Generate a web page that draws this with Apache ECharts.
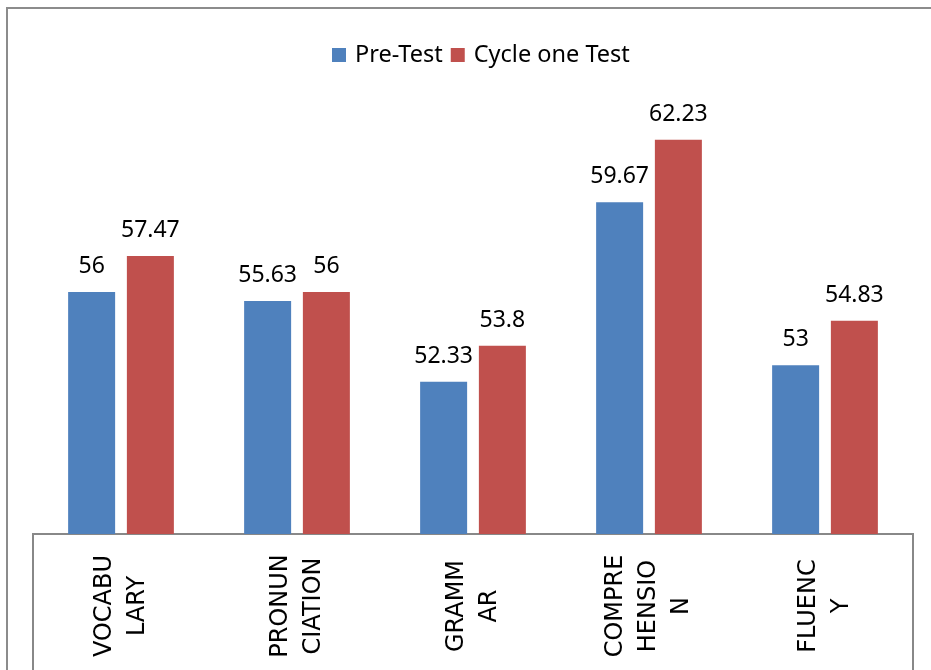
<!DOCTYPE html>
<html>
<head>
<meta charset="utf-8">
<script src="https://cdn.jsdelivr.net/npm/echarts@6/dist/echarts.min.js"></script>
<style>
  html, body { margin: 0; padding: 0; background: #fff; }
  #chart { width: 931px; height: 670px; }
</style>
</head>
<body>
<div id="chart"></div>
<script>
// skill categories (two-line labels as in the original)
var categories = ['VOCABU\nLARY', 'PRONUN\nCIATION', 'GRAMM\nAR', 'COMPRE\nHENSIO\nN', 'FLUENC\nY'];
var preTest = [56, 55.63, 52.33, 59.67, 53];
var cycleOneTest = [57.47, 56, 53.8, 62.23, 54.83];

var labelStyle = {
  show: true,
  position: 'top',
  distance: 14,
  color: '#000',
  fontFamily: 'Noto Sans',
  fontSize: 23
};

var chart = echarts.init(document.getElementById('chart'));
chart.setOption({
  animation: false,
  color: ['#4F81BD', '#C0504D'],
  legend: {
    left: 332,
    top: 43,
    padding: 0,
    itemWidth: 14,
    itemHeight: 14,
    itemGap: 8,
    icon: 'rect',
    textStyle: {
      fontFamily: 'Noto Sans',
      fontSize: 23.5,
      color: '#000',
      padding: [0, 0, 0, 4]
    },
    data: ['Pre-Test', 'Cycle one Test']
  },
  grid: {
    left: 33,
    right: 18,
    top: 96.5,
    bottom: 136
  },
  xAxis: {
    type: 'category',
    data: categories,
    axisLine: { lineStyle: { color: '#888', width: 2 } },
    axisTick: { show: false },
    axisLabel: {
      rotate: 90,
      align: 'center',
      verticalAlign: 'middle',
      margin: 72,
      interval: 0,
      color: '#000',
      fontFamily: '"DejaVu Sans", Verdana, sans-serif',
      fontSize: 24,
      lineHeight: 33
    }
  },
  yAxis: {
    type: 'value',
    min: 46.1,
    max: 64,
    show: false,
    splitLine: { show: false }
  },
  series: [{
    name: 'Pre-Test',
    type: 'bar',
    barWidth: 47,
    barGap: '25%',
    data: preTest,
    label: labelStyle
  }, {
    name: 'Cycle one Test',
    type: 'bar',
    barWidth: 47,
    data: cycleOneTest,
    label: labelStyle
  }],
  graphic: [{
    // outer chart border (runs off the right and bottom edges)
    type: 'rect',
    shape: { x: 7, y: 8, width: 1000, height: 1000 },
    style: { fill: 'none', stroke: '#8c8c8c', lineWidth: 2 },
    silent: true
  }, {
    // box around the category labels
    type: 'rect',
    shape: { x: 33, y: 534, width: 880, height: 200 },
    style: { fill: 'none', stroke: '#888', lineWidth: 2 },
    silent: true
  }]
});
</script>
</body>
</html>
